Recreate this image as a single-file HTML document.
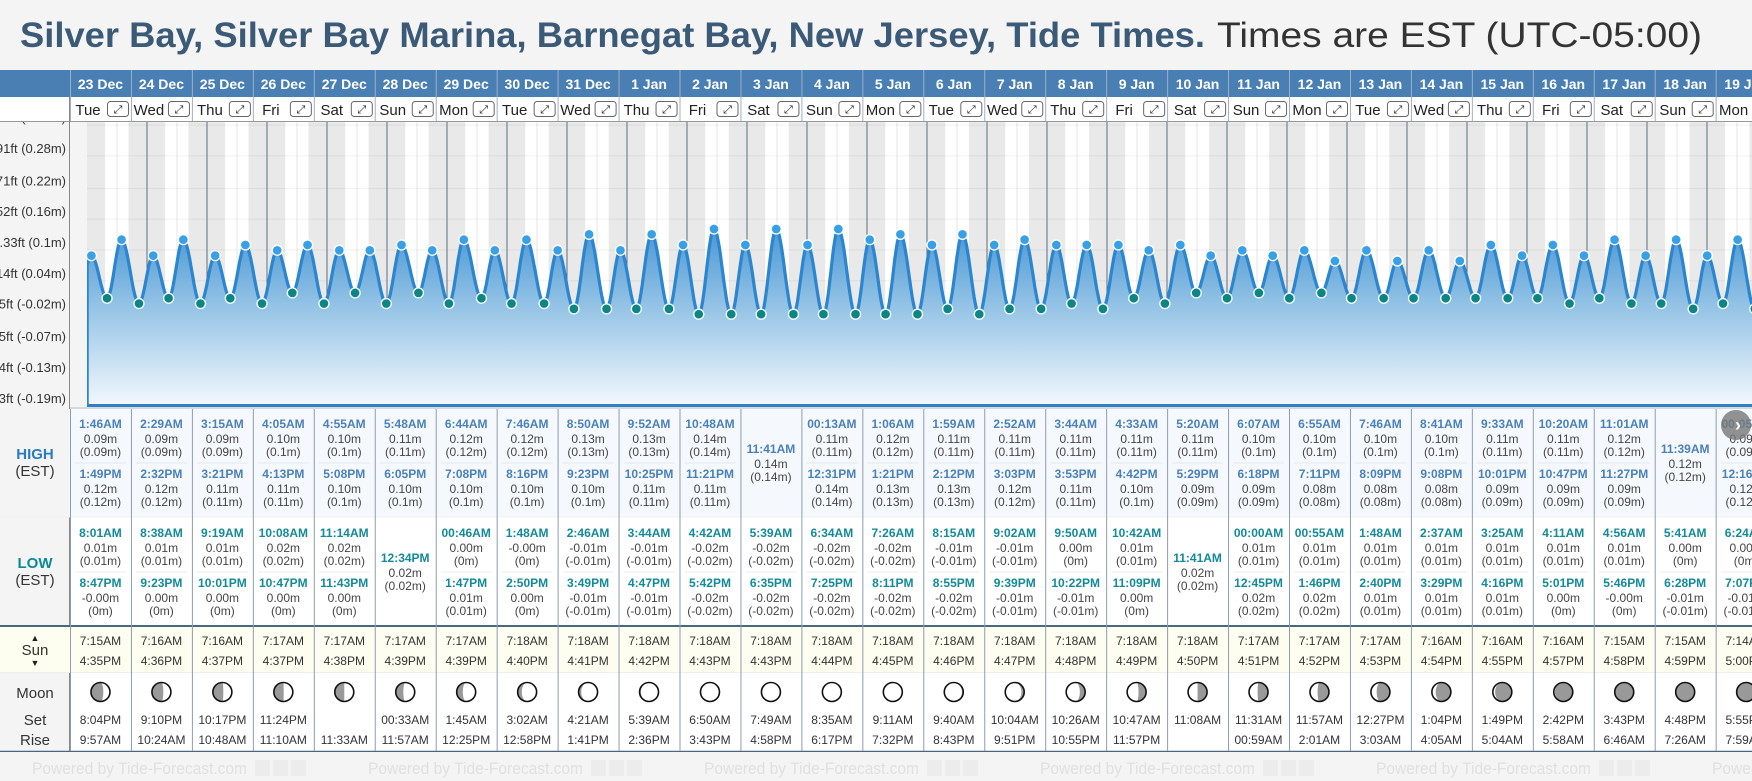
<!DOCTYPE html>
<html><head><meta charset="utf-8">
<style>
html,body{margin:0;padding:0;background:#f4f4f4;width:1752px;height:781px;overflow:hidden;font-family:"Liberation Sans",Arial,sans-serif;}
svg{display:block}
</style></head>
<body>
<svg id="root" width="1752" height="781" viewBox="0 0 1752 781" xmlns="http://www.w3.org/2000/svg" font-family="Liberation Sans, Arial, sans-serif">
<defs>
<linearGradient id="fillGrad" gradientUnits="userSpaceOnUse" x1="0" y1="215" x2="0" y2="406">
<stop offset="0" stop-color="#3b8fd3"/>
<stop offset="0.45" stop-color="#8fc0e4"/>
<stop offset="1" stop-color="#f3f8fd"/>
</linearGradient>
<clipPath id="plotClip"><rect x="87" y="122" width="1665" height="286"/></clipPath>
</defs>
</svg>
<script>
const dayLabels=['23 Dec','24 Dec','25 Dec','26 Dec','27 Dec','28 Dec','29 Dec','30 Dec','31 Dec','1 Jan','2 Jan','3 Jan','4 Jan','5 Jan','6 Jan','7 Jan','8 Jan','9 Jan','10 Jan','11 Jan','12 Jan','13 Jan','14 Jan','15 Jan','16 Jan','17 Jan','18 Jan','19 Jan'];
const weekdays=['Tue','Wed','Thu','Fri','Sat','Sun','Mon','Tue','Wed','Thu','Fri','Sat','Sun','Mon','Tue','Wed','Thu','Fri','Sat','Sun','Mon','Tue','Wed','Thu','Fri','Sat','Sun','Mon'];
const highTimes=[['1:46AM','1:49PM'],['2:29AM','2:32PM'],['3:15AM','3:21PM'],['4:05AM','4:13PM'],['4:55AM','5:08PM'],['5:48AM','6:05PM'],['6:44AM','7:08PM'],['7:46AM','8:16PM'],['8:50AM','9:23PM'],['9:52AM','10:25PM'],['10:48AM','11:21PM'],['11:41AM'],['00:13AM','12:31PM'],['1:06AM','1:21PM'],['1:59AM','2:12PM'],['2:52AM','3:03PM'],['3:44AM','3:53PM'],['4:33AM','4:42PM'],['5:20AM','5:29PM'],['6:07AM','6:18PM'],['6:55AM','7:11PM'],['7:46AM','8:09PM'],['8:41AM','9:08PM'],['9:33AM','10:01PM'],['10:20AM','10:47PM'],['11:01AM','11:27PM'],['11:39AM'],['00:05AM','12:16PM']];
const highVals=[[0.09,0.12],[0.09,0.12],[0.09,0.11],[0.10,0.11],[0.10,0.10],[0.11,0.10],[0.12,0.10],[0.12,0.10],[0.13,0.10],[0.13,0.11],[0.14,0.11],[0.14],[0.11,0.14],[0.12,0.13],[0.11,0.13],[0.11,0.12],[0.11,0.11],[0.11,0.10],[0.11,0.09],[0.10,0.09],[0.10,0.08],[0.10,0.08],[0.10,0.08],[0.11,0.09],[0.11,0.09],[0.12,0.09],[0.12],[0.09,0.12]];
const lowTimes=[['8:01AM','8:47PM'],['8:38AM','9:23PM'],['9:19AM','10:01PM'],['10:08AM','10:47PM'],['11:14AM','11:43PM'],['12:34PM'],['00:46AM','1:47PM'],['1:48AM','2:50PM'],['2:46AM','3:49PM'],['3:44AM','4:47PM'],['4:42AM','5:42PM'],['5:39AM','6:35PM'],['6:34AM','7:25PM'],['7:26AM','8:11PM'],['8:15AM','8:55PM'],['9:02AM','9:39PM'],['9:50AM','10:22PM'],['10:42AM','11:09PM'],['11:41AM'],['00:00AM','12:45PM'],['00:55AM','1:46PM'],['1:48AM','2:40PM'],['2:37AM','3:29PM'],['3:25AM','4:16PM'],['4:11AM','5:01PM'],['4:56AM','5:46PM'],['5:41AM','6:28PM'],['6:24AM','7:07PM']];
const lowVals=[[0.01,-0],[0.01,0],[0.01,0],[0.02,0],[0.02,0],[0.02],[0,0.01],[-0,0],[-0.01,-0.01],[-0.01,-0.01],[-0.02,-0.02],[-0.02,-0.02],[-0.02,-0.02],[-0.02,-0.02],[-0.01,-0.02],[-0.01,-0.01],[0,-0.01],[0.01,0],[0.02],[0.01,0.02],[0.01,0.02],[0.01,0.01],[0.01,0.01],[0.01,0.01],[0.01,0],[0.01,-0],[0,-0.01],[0,-0.01]];
const preLowTime=-4.2, preLowVal=0.0;
const sunrise=['7:15AM','7:16AM','7:16AM','7:17AM','7:17AM','7:17AM','7:17AM','7:18AM','7:18AM','7:18AM','7:18AM','7:18AM','7:18AM','7:18AM','7:18AM','7:18AM','7:18AM','7:18AM','7:18AM','7:17AM','7:17AM','7:17AM','7:16AM','7:16AM','7:16AM','7:15AM','7:15AM','7:14AM'];
const sunset=['4:35PM','4:36PM','4:37PM','4:37PM','4:38PM','4:39PM','4:39PM','4:40PM','4:41PM','4:42PM','4:43PM','4:43PM','4:44PM','4:45PM','4:46PM','4:47PM','4:48PM','4:49PM','4:50PM','4:51PM','4:52PM','4:53PM','4:54PM','4:55PM','4:57PM','4:58PM','4:59PM','5:00PM'];
const moonSet=['8:04PM','9:10PM','10:17PM','11:24PM','','00:33AM','1:45AM','3:02AM','4:21AM','5:39AM','6:50AM','7:49AM','8:35AM','9:11AM','9:40AM','10:04AM','10:26AM','10:47AM','11:08AM','11:31AM','11:57AM','12:27PM','1:04PM','1:49PM','2:42PM','3:43PM','4:48PM','5:55PM'];
const moonRise=['9:57AM','10:24AM','10:48AM','11:10AM','11:33AM','11:57AM','12:25PM','12:58PM','1:41PM','2:36PM','3:43PM','4:58PM','6:17PM','7:32PM','8:43PM','9:51PM','10:55PM','11:57PM','','00:59AM','2:01AM','3:03AM','4:05AM','5:04AM','5:58AM','6:46AM','7:26AM','7:59AM'];
const moonIllum=[0.35,0.4,0.45,0.48,0.5,0.6,0.68,0.78,0.86,0.93,0.98,1,1,0.97,0.93,0.85,0.72,0.6,0.5,0.45,0.4,0.3,0.2,0.12,0.06,0.02,0,0];
const moonWaxing=[1,1,1,1,1,1,1,1,1,1,1,1,0,0,0,0,0,0,0,0,0,0,0,0,0,0,0,0];
const tickFt=[1.10,0.91,0.71,0.52,0.33,0.14,-0.05,-0.25,-0.44,-0.63];
const tickM=['0.33','0.28','0.22','0.16','0.1','0.04','-0.02','-0.07','-0.13','-0.19'];

const NS='http://www.w3.org/2000/svg';
const root=document.getElementById('root');
function mk(tag,attrs,parent,text){const e=document.createElementNS(NS,tag);for(const k in attrs)e.setAttribute(k,attrs[k]);if(text!==undefined)e.textContent=text;(parent||root).appendChild(e);return e;}
function hrs(s){const m=s.match(/(\d+):(\d+)(AM|PM)/);let h=(+m[1])%12;if(m[3]==='PM')h+=12;return h+(+m[2])/60;}
const COLX0=70, COLW=60.95, PX0=87, DAYW=60, YBOT=406;
function colX(i){return COLX0+i*COLW;}
function tx(t){return PX0+t/24*DAYW;}
function yFt(ft){return 250-(ft-0.33)*162.3;}
function yM(m){return yFt(m/0.3048);}
function fmtH(v){let s=Math.abs(v).toFixed(2);if(v<0||Object.is(v,-0))s='-'+s;return s+'m';}
function fmtP(v){return '('+String(parseFloat(Math.abs(v).toFixed(2))*(v<0?-1:1))+'m)';}

let t1=mk('text',{x:20,y:47,'font-size':35,'font-weight':'bold',fill:'#3b5a78',textLength:1185,lengthAdjust:'spacingAndGlyphs'},root,'Silver Bay, Silver Bay Marina, Barnegat Bay, New Jersey, Tide Times.');


let t2=mk('text',{x:1217,y:47,'font-size':35,fill:'#333',textLength:485,lengthAdjust:'spacingAndGlyphs'},root,'Times are EST (UTC-05:00)');



let hb=mk('rect',{x:0,y:70,width:1752,height:27,fill:'#4a7fb4'});


let dr=mk('rect',{x:70,y:97,width:1682,height:24,fill:'#fff'});


mk('line',{x1:0,y1:121.5,x2:1752,y2:121.5,stroke:'#999'});
for(let i=0;i<dayLabels.length;i++){
  const x=colX(i);
  let dl=mk('text',{x:x+COLW/2,y:89,'font-size':14,'font-weight':'bold',fill:'#fff','text-anchor':'middle'},root,dayLabels[i]);
  
  
  mk('line',{x1:x+0.5,y1:70,x2:x+0.5,y2:121,stroke:'#9db0c4'});
  let wd=mk('text',{x:x+18,y:115,'font-size':15,fill:'#222','text-anchor':'middle'},root,weekdays[i]);
  
  
  let eb=mk('rect',{x:x+37.5,y:101.5,width:21,height:15,rx:3,fill:'#fff',stroke:'#666'});
  
  
  mk('text',{x:x+48,y:113,'font-size':11,fill:'#222','text-anchor':'middle'},root,'⤢');
}

let pb=mk('rect',{x:0,y:122,width:1752,height:285,fill:'#f4f4f4'});


const shade=mk('g',{'clip-path':'url(#plotClip)'});
for(let d=0;d<dayLabels.length;d++){
  const x=PX0+d*DAYW;
  let n=mk('rect',{x:x,y:122,width:DAYW,height:285,fill:'#e9e9e9'},shade);
  
  
  const sr=tx(d*24+hrs(sunrise[d])), ss=tx(d*24+hrs(sunset[d]));
  let dy=mk('rect',{x:sr,y:122,width:ss-sr,height:285,fill:'#fff'},shade);
  
  
  mk('line',{x1:tx(d*24+12),y1:122,x2:tx(d*24+12),y2:406,stroke:'#e6e6e6'},shade);
}
for(let k=0;k<tickFt.length;k++){
  const gy=yFt(tickFt[k]);
  mk('line',{x1:87,y1:gy,x2:1752,y2:gy,stroke:'rgba(0,0,0,0.06)'},shade);
  let tl=mk('text',{x:66,y:gy-3,'font-size':13,fill:'#333','text-anchor':'end'},root,tickFt[k].toFixed(2).replace(/^1\.10$/,'1.1')+'ft ('+tickM[k]+'m)');
  
  
}
mk('rect',{x:0,y:97,width:70,height:24,fill:'#fff'});
mk('line',{x1:0,y1:121.5,x2:70,y2:121.5,stroke:'#999'});
mk('line',{x1:69.5,y1:97,x2:69.5,y2:752,stroke:'#888'});
for(let d=1;d<=dayLabels.length;d++){
  let sl=mk('line',{x1:PX0+d*DAYW,y1:122,x2:PX0+d*DAYW,y2:406,stroke:'#5c6e84'},shade);
  
  
}

const events=[{t:preLowTime,v:preLowVal,type:'low'}];
for(let d=0;d<dayLabels.length;d++){
  const evs=[];
  highTimes[d].forEach((s,j)=>evs.push({t:d*24+hrs(s),v:highVals[d][j],type:'high'}));
  lowTimes[d].forEach((s,j)=>evs.push({t:d*24+hrs(s),v:lowVals[d][j],type:'low'}));
  evs.sort((a,b)=>a.t-b.t);events.push(...evs);
}
const pts=[];
for(let k=0;k<events.length-1;k++){
  const a=events[k],b=events[k+1];
  for(let s=0;s<16;s++){const f=s/16;const t=a.t+(b.t-a.t)*f;if(t<0)continue;const v=a.v+(b.v-a.v)*(1-Math.cos(Math.PI*f))/2;pts.push([tx(t),yM(v)]);}
}
{const a=events[0],b=events[1];const f=(0-a.t)/(b.t-a.t);const v=a.v+(b.v-a.v)*(1-Math.cos(Math.PI*f))/2;pts.unshift([tx(0),yM(v)]);}
const last=events[events.length-1];pts.push([tx(last.t),yM(last.v)]);
const g=mk('g',{'clip-path':'url(#plotClip)'});
let dStr='M'+pts[0][0]+','+YBOT+' L'+pts.map(p=>p[0].toFixed(1)+','+p[1].toFixed(1)).join(' L')+' L'+pts[pts.length-1][0].toFixed(1)+','+YBOT+' Z';
let area=mk('path',{d:dStr,fill:'url(#fillGrad)'},g);


let line=mk('path',{d:'M'+pts.map(p=>p[0].toFixed(1)+','+p[1].toFixed(1)).join(' L'),fill:'none',stroke:'#2b86cf','stroke-width':3.2,'stroke-linejoin':'round'},g);


mk('line',{x1:87.5,y1:pts[0][1],x2:87.5,y2:406,stroke:'#2b86cf','stroke-width':2.5},g);
for(const e of events){
  if(e.t<0)continue;
  let c=mk('circle',{cx:tx(e.t),cy:yM(e.v),r:5,fill:e.type==='high'?'#38a0e6':'#0b8585',stroke:'#fff','stroke-width':1.3},g);
  
  
}
let ax=mk('line',{x1:87,y1:405.5,x2:1752,y2:405.5,stroke:'#2f80c6','stroke-width':3});


mk('line',{x1:70,y1:408,x2:1752,y2:408,stroke:'#bbb'});

let hr=mk('rect',{x:0,y:409,width:1752,height:108,fill:'#f5f9fd'});


let lr=mk('rect',{x:70,y:517,width:1682,height:108,fill:'#fff'});


mk('rect',{x:0,y:517,width:69,height:108,fill:'#f4f4f4'});
mk('rect',{x:0,y:409,width:69,height:108,fill:'#f4f4f4'});
let sunr=mk('rect',{x:0,y:627,width:1752,height:45,fill:'#fdfdf0'});


let moonr=mk('rect',{x:70,y:673,width:1682,height:78,fill:'#fff'});


mk('line',{x1:0,y1:626,x2:1752,y2:626,stroke:'#4b6680','stroke-width':2});
mk('line',{x1:0,y1:672.5,x2:1752,y2:672.5,stroke:'#eee'});
mk('line',{x1:0,y1:751.5,x2:1752,y2:751.5,stroke:'#4b6680','stroke-width':1.5});
mk('line',{x1:0,y1:517,x2:1752,y2:517,stroke:'#f0f0f0'});

function lbl(x,y,s,size,fill,bold,name){let e=mk('text',{x:x,y:y,'font-size':size,fill:fill,'text-anchor':'middle','font-weight':bold?'bold':'normal'},root,s);return e;}
lbl(35,459,'HIGH',15,'#2a7bbf',true,'high-label');
lbl(35,476,'(EST)',15,'#333',false,'high-est-label');
lbl(35,568,'LOW',15,'#0b8a95',true,'low-label');
lbl(35,585,'(EST)',15,'#333',false,'low-est-label');
lbl(35,641,'▲',9,'#222',false,'sun-up-arrow');
lbl(35,655,'Sun',15,'#333',false,'sun-label');
lbl(35,666,'▼',9,'#222',false,'sun-down-arrow');
lbl(35,698,'Moon',15,'#333',false,'moon-label');
lbl(35,725,'Set',15,'#333',false,'moonset-label');
lbl(35,745,'Rise',15,'#333',false,'moonrise-label');

function entry(cx,y,time,v,color,name){
  let a=mk('text',{x:cx,y:y,'font-size':12,'font-weight':'bold',fill:color,'text-anchor':'middle'},root,time);
  
  
  let b=mk('text',{x:cx,y:y+15,'font-size':12,fill:'#444','text-anchor':'middle'},root,fmtH(v));
  
  
  let c=mk('text',{x:cx,y:y+28,'font-size':12,fill:'#444','text-anchor':'middle'},root,fmtP(v));
  
  
}
for(let i=0;i<dayLabels.length;i++){
  const x=colX(i),cx=x+COLW/2;
  mk('line',{x1:x+0.5,y1:409,x2:x+0.5,y2:751,stroke:'#8d9db0'});
  if(highTimes[i].length===2){entry(cx,428,highTimes[i][0],highVals[i][0],'#4a80bb','high-tide');entry(cx,478,highTimes[i][1],highVals[i][1],'#4a80bb','high-tide');mk('line',{x1:x+5,y1:463,x2:x+56,y2:463,stroke:'#e3e9ef'});}
  else entry(cx,453,highTimes[i][0],highVals[i][0],'#4a80bb','high-tide');
  if(lowTimes[i].length===2){entry(cx,537,lowTimes[i][0],lowVals[i][0],'#138a98','low-tide');entry(cx,587,lowTimes[i][1],lowVals[i][1],'#138a98','low-tide');mk('line',{x1:x+5,y1:572,x2:x+56,y2:572,stroke:'#eee'});}
  else entry(cx,562,lowTimes[i][0],lowVals[i][0],'#138a98','low-tide');
  let s1=mk('text',{x:cx,y:645,'font-size':12,fill:'#333','text-anchor':'middle'},root,sunrise[i]);
  
  
  let s2=mk('text',{x:cx,y:665,'font-size':12,fill:'#333','text-anchor':'middle'},root,sunset[i]);
  
  
  const my=692,r=9.5,k=moonIllum[i],wax=moonWaxing[i];
  const mg=mk('g',{});
  
  
  mk('circle',{cx:cx,cy:my,r:r,fill:'#999'},mg);
  mk('path',{d:`M${cx},${my-r} A${r},${r} 0 0 ${wax?1:0} ${cx},${my+r} Z`,fill:'#fff'},mg);
  const erx=Math.abs(1-2*k)*r;
  mk('ellipse',{cx:cx,cy:my,rx:erx,ry:r,fill:k<0.5?'#999':'#fff'},mg);
  if(k===0){mk('circle',{cx:cx,cy:my,r:r,fill:'#999'},mg);}
  mk('circle',{cx:cx,cy:my,r:r,fill:'none',stroke:'#111','stroke-width':1.6},mg);
  if(moonSet[i]){let m1=mk('text',{x:cx,y:724,'font-size':12,fill:'#333','text-anchor':'middle'},root,moonSet[i]);}
  if(moonRise[i]){let m2=mk('text',{x:cx,y:744,'font-size':12,fill:'#333','text-anchor':'middle'},root,moonRise[i]);}
}
let nb=mk('circle',{cx:1736,cy:425,r:15,fill:'#777',opacity:0.8});


mk('text',{x:1738,y:431,'font-size':18,'font-weight':'bold',fill:'#fff','text-anchor':'middle'},root,'›');

let fb=mk('rect',{x:0,y:752,width:1752,height:29,fill:'#f4f4f4'});


for(let x=32;x<1752;x+=336){
  let ft=mk('text',{x:x,y:774,'font-size':17,fill:'#e0e0e0',textLength:215,lengthAdjust:'spacingAndGlyphs'},root,'Powered by Tide-Forecast.com');
  
  
  for(let j=0;j<3;j++)mk('rect',{x:x+223+j*18,y:760,width:15,height:16,fill:'#ececec'});
}
</script>
</body></html>
